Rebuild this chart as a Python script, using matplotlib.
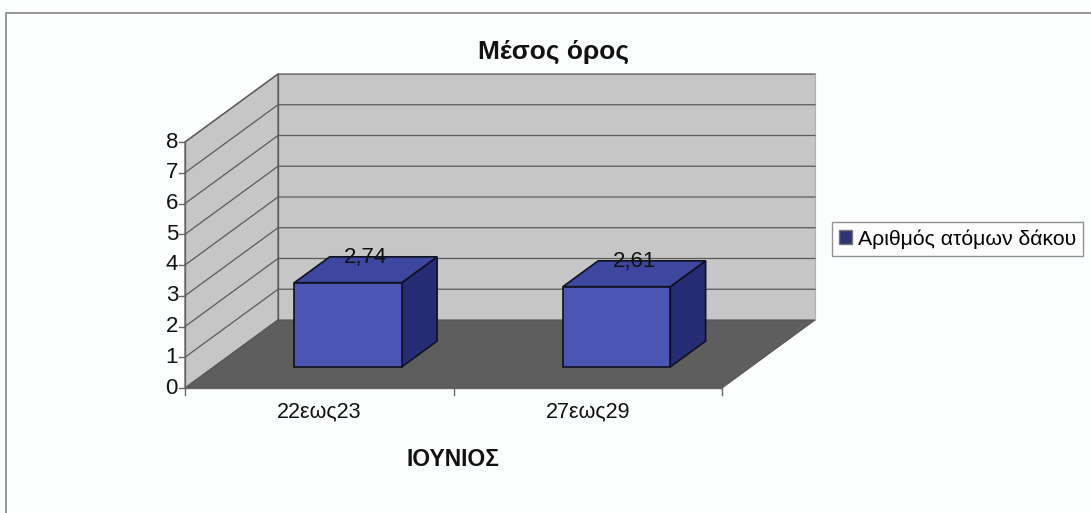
import matplotlib
matplotlib.use("Agg")
import matplotlib.pyplot as plt
from matplotlib.patches import Polygon, Rectangle, Patch

# ---- data ----
categories = ["22εως23", "27εως29"]
values = [2.74, 2.61]
value_labels = ["2,74", "2,61"]
yticks = [0, 1, 2, 3, 4, 5, 6, 7, 8]
title = "Μέσος όρος"
xlabel = "ΙΟΥΝΙΟΣ"
series_name = "Αριθμός ατόμων δάκου"

plt.rcParams['font.family'] = ['Liberation Sans', 'DejaVu Sans']

W, H = 1091, 513
fig = plt.figure(figsize=(W / 100, H / 100), dpi=100)
fig.patch.set_facecolor("#fdfefe")
ax = fig.add_axes([0, 0, 1, 1])
ax.axis("off")

# layout of the front plane (pixels) -> data scale
x0_px, x2_px = 185, 722
y0_px, y8_px = 388, 142
ymax = yticks[-1]
ncat = len(categories)
sx = (x2_px - x0_px) / ncat          # px per category
sy = (y0_px - y8_px) / ymax          # px per unit
ax.set_xlim(-x0_px / sx, (W - x0_px) / sx)
ax.set_ylim(-(H - y0_px) / sy, y0_px / sy)

# oblique depth
DX = 93 / sx
DY = 68 / sy


def P(x, y, d):
    return (x + d * DX, y + d * DY)


wall = "#c6c6c6"
edge = "#6e6e6e"
floor_c = "#5e5e5e"

# side wall
ax.add_patch(Polygon([P(0, 0, 0), P(0, 0, 1), P(0, ymax, 1), P(0, ymax, 0)],
                     closed=True, facecolor=wall, edgecolor=edge, lw=1.0, zorder=1))
# back wall
ax.add_patch(Polygon([P(0, 0, 1), P(ncat, 0, 1), P(ncat, ymax, 1), P(0, ymax, 1)],
                     closed=True, facecolor=wall, edgecolor="#b0b0b0", lw=0.8, zorder=1))
# gridlines
for t in yticks[1:]:
    a, b, c = P(0, t, 0), P(0, t, 1), P(ncat, t, 1)
    ax.plot([a[0], b[0], c[0]], [a[1], b[1], c[1]], color="#5a5a5a", lw=0.9, zorder=2)
# back corner edge
a, b = P(0, 0, 1), P(0, ymax, 1)
ax.plot([a[0], b[0]], [a[1], b[1]], color="#5a5a5a", lw=0.9, zorder=2)
# floor
ax.add_patch(Polygon([P(0, 0, 0), P(ncat, 0, 0), P(ncat, 0, 1), P(0, 0, 1)],
                     closed=True, facecolor=floor_c, edgecolor="#555555", lw=0.8, zorder=3))

# y axis
ax.plot([0, 0], [0, ymax], color="#666666", lw=1.0, zorder=4)
tick_len_x = 6 / sx
for t in yticks:
    ax.plot([-tick_len_x, 0], [t, t], color="#666666", lw=1.0, zorder=4)
    ax.text(-7 / sx, t, str(t), ha="right", va="center", fontsize=16, color="#111111")
# x axis
ax.plot([0, ncat], [0, 0], color="#666666", lw=1.0, zorder=4)
tick_len_y = 7 / sy
for i in range(ncat + 1):
    ax.plot([i, i], [0, -tick_len_y], color="#666666", lw=1.0, zorder=4)
for i, c in enumerate(categories):
    ax.text(i + 0.5, -24 / sy, c, ha="center", va="center", fontsize=15.5, color="#111111")
ax.text(ncat / 2, -72 / sy, xlabel, ha="center", va="center", fontsize=16.5,
        fontweight="bold", color="#111111")

# bars
bw = 0.40
d0, d1 = 0.31, 0.69
front_c, top_c, side_c = "#4b56b4", "#3d47a0", "#252c75"
for i, v in enumerate(values):
    xl, xr = i + 0.5 - bw / 2, i + 0.5 + bw / 2
    front = [P(xl, 0, d0), P(xr, 0, d0), P(xr, v, d0), P(xl, v, d0)]
    top = [P(xl, v, d0), P(xr, v, d0), P(xr, v, d1), P(xl, v, d1)]
    side = [P(xr, 0, d0), P(xr, 0, d1), P(xr, v, d1), P(xr, v, d0)]
    for poly, col in ((side, side_c), (top, top_c), (front, front_c)):
        ax.add_patch(Polygon(poly, closed=True, facecolor=col, edgecolor="#101020",
                             lw=1.2, zorder=5))
    lx, ly = P(i + 0.5, v, 0.5)
    ax.text(lx, ly + 2 / sy, value_labels[i], ha="center", va="bottom",
            fontsize=16, color="#111111", zorder=6)

# title
fig.text(553 / W, 1 - 52 / H, title, ha="center", va="center", fontsize=19,
         fontweight="bold", color="#111111")

# outer frame
fig.add_artist(Rectangle((6 / W, -0.01), 1.1, 1 - 13 / H + 0.01, transform=fig.transFigure,
                         fill=False, edgecolor="#888888", lw=1.2))

# legend
leg = fig.legend(handles=[Patch(facecolor="#2f3470", edgecolor="#777777", label=series_name)],
                 loc="center left", bbox_to_anchor=(832 / W, 1 - 239 / H),
                 fontsize=15.3, frameon=True, fancybox=False, handlelength=0.6,
                 handleheight=0.65, handletextpad=0.25, borderpad=0.35,
                 borderaxespad=0)
leg.get_frame().set_edgecolor("#777777")
leg.get_frame().set_linewidth(1.0)

fig.savefig("out.png", dpi=100, facecolor=fig.get_facecolor())
